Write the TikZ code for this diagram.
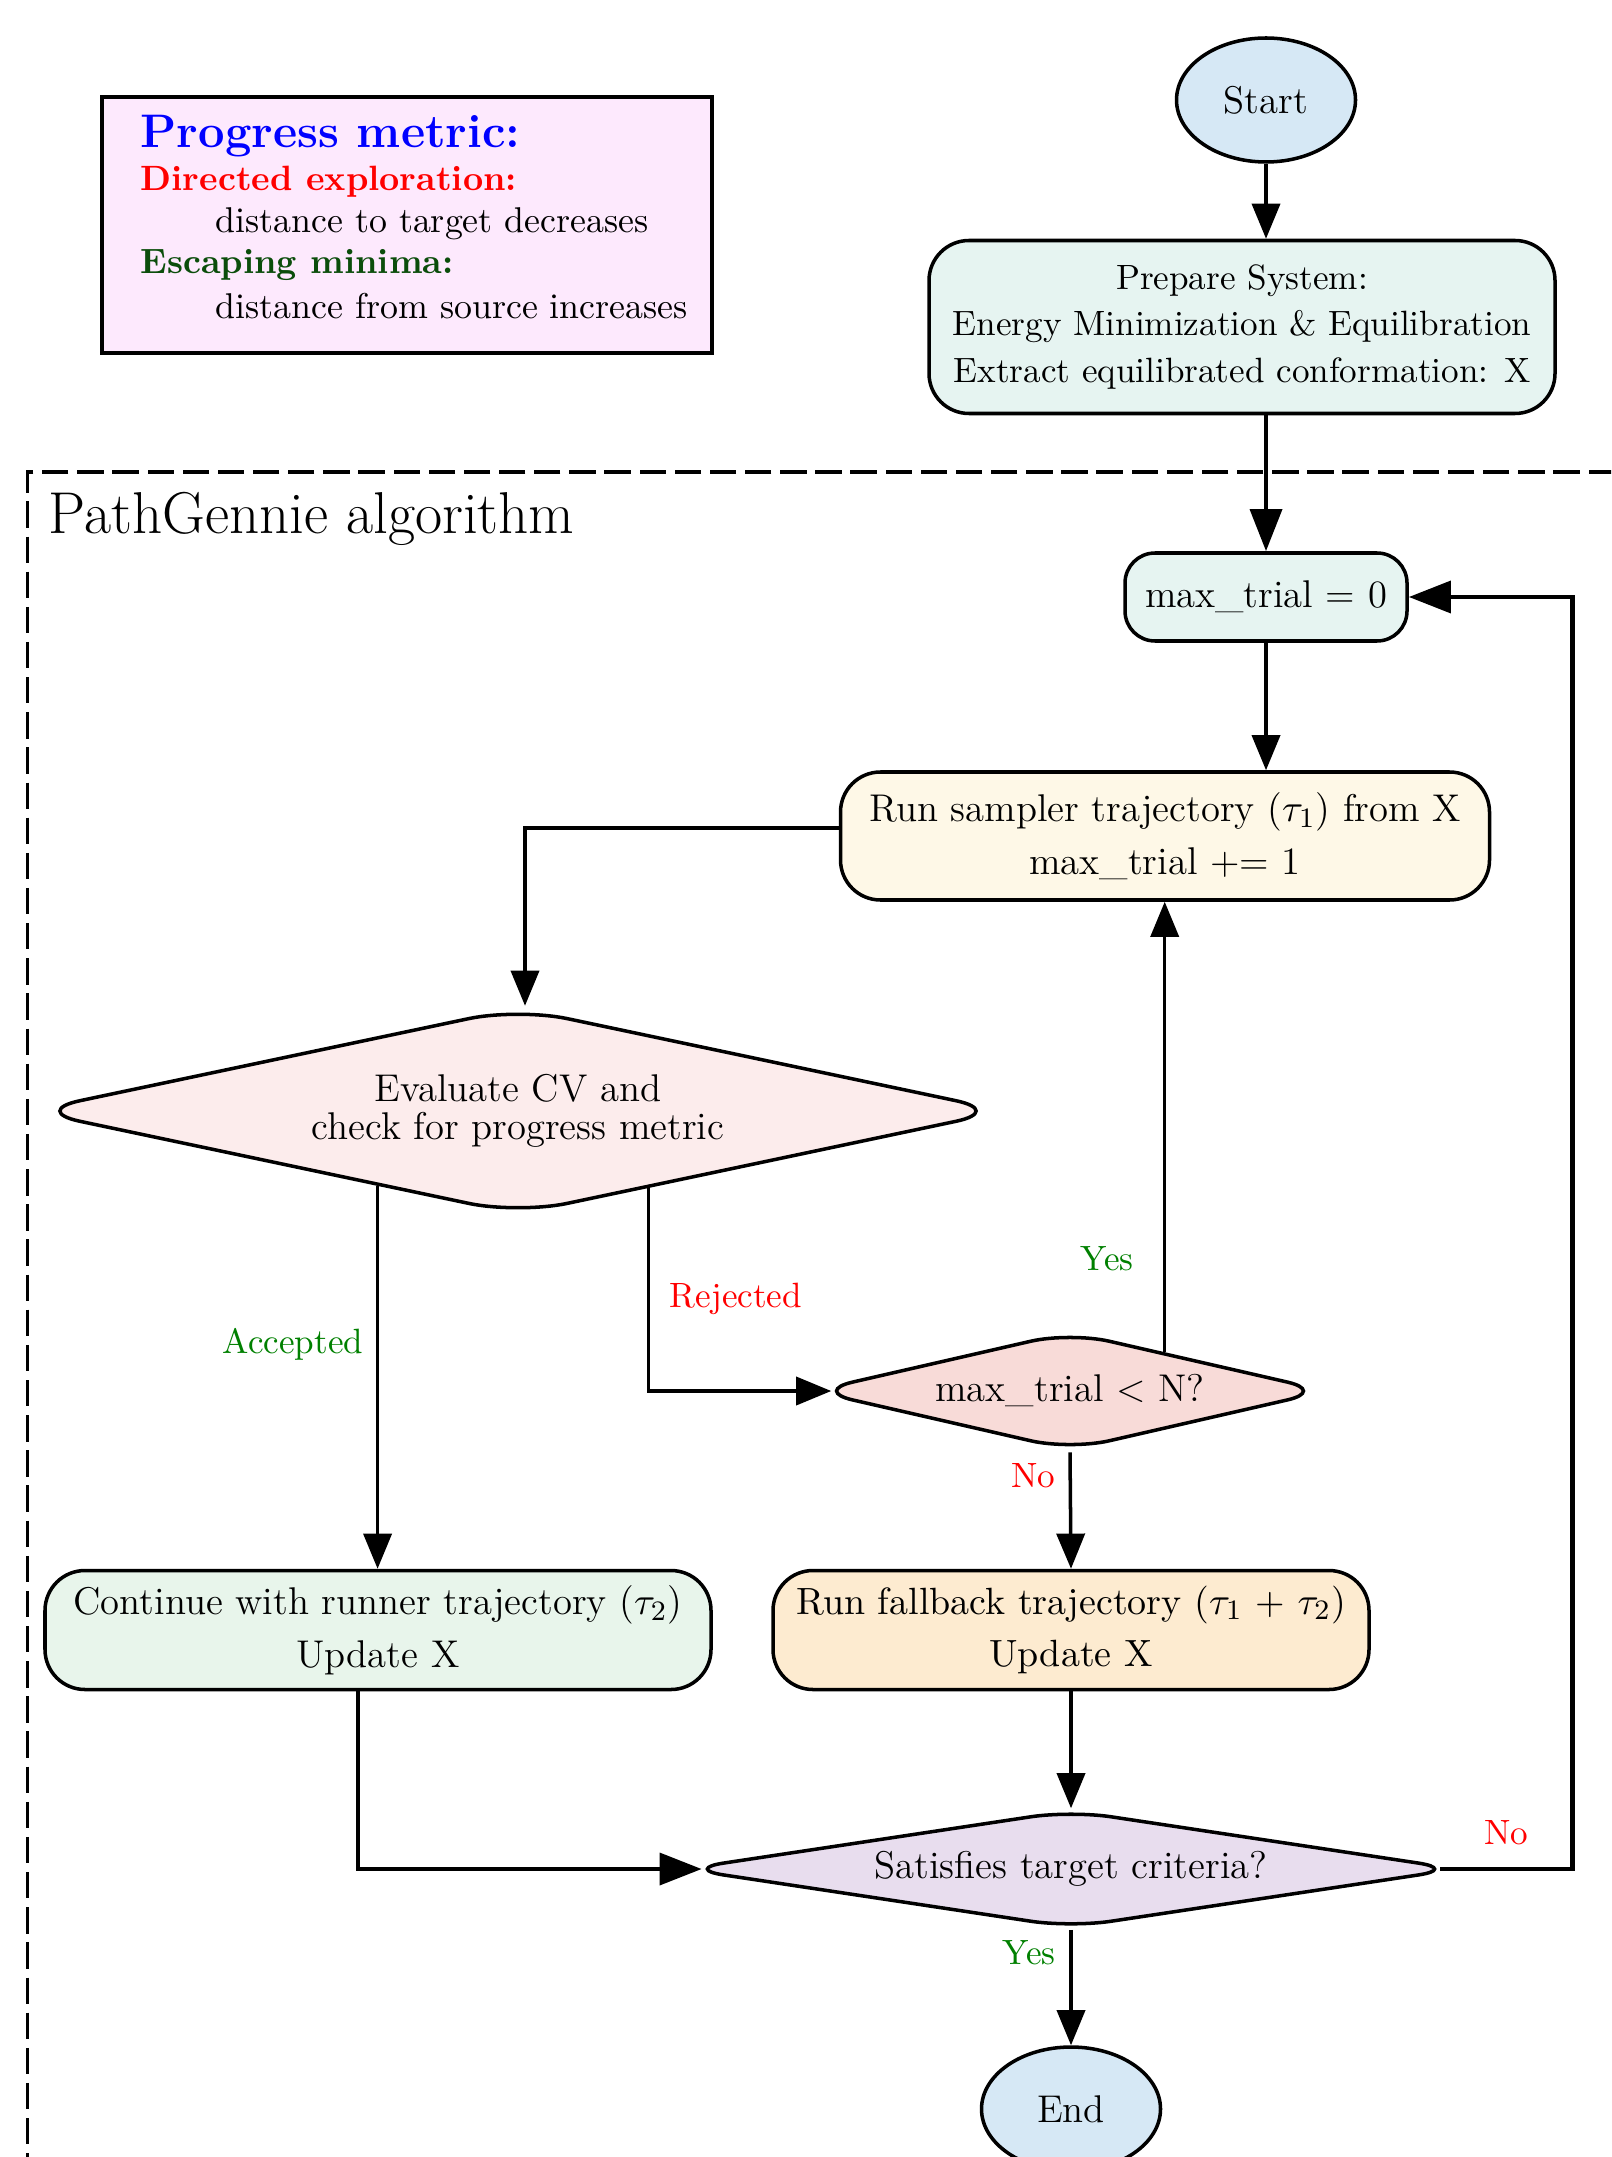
\documentclass[tikz,border=0pt]{standalone}
\usepackage{amsmath,amssymb,tikz,xcolor}
\usetikzlibrary{shapes.geometric,arrows.meta,calc}

\definecolor{termblue}{HTML}{D6E8F5}
\definecolor{prepteal}{HTML}{E6F4F1}
\definecolor{samplercream}{HTML}{FEF8E7}
\definecolor{evalpink}{HTML}{FCECEC}
\definecolor{checkpink}{HTML}{F8DBD8}
\definecolor{contgreen}{HTML}{E8F5EB}
\definecolor{fallorange}{HTML}{FDEBD0}
\definecolor{satlilac}{HTML}{E8DDEE}
\definecolor{legendpink}{HTML}{FDE9FD}
\definecolor{yesgreen}{HTML}{008000}
\definecolor{escgreen}{HTML}{0B4D0B}

\begin{document}
\begin{tikzpicture}[box/.style={draw=black,line width=1pt,rounded corners=0.4cm,align=center,inner sep=0pt,font=\fontsize{11}{14}\selectfont},
                    decision/.style={draw=black,line width=1pt,diamond,rounded corners=0.4cm,align=center,inner sep=0pt,font=\fontsize{11}{13}\selectfont},
                    term/.style={draw=black,line width=1pt,ellipse,minimum width=1.79cm,minimum height=1.24cm,fill=termblue,font=\fontsize{11}{13}\selectfont},
                    arr/.style={-{Triangle[length=10pt,width=8pt]},line width=1pt},
                    thickarr/.style={-{Triangle[length=12pt,width=9pt]},line width=1.4pt},
                    yeslbl/.style={text=yesgreen,font=\fontsize{10}{12}\selectfont},
                    nolbl/.style={text=red,font=\fontsize{10}{12}\selectfont}]
                \clip (0,0) rectangle (16.11,-21.57);

                % legend
                \node[draw=black,line width=1pt,fill=legendpink,anchor=north west,minimum width=6.10cm,minimum height=2.56cm,inner sep=0pt] (legend) at (1.00,-0.95) {};
                \node[anchor=west,inner sep=0pt,text=blue,font=\fontsize{13.4}{16}\selectfont\bfseries] (lgtitle) at (1.40,-1.36) {Progress metric:};
                \node[anchor=west,inner sep=0pt,text=red,font=\fontsize{10}{12}\selectfont\bfseries] (lgdir) at (1.40,-1.82) {Directed exploration:};
                \node[anchor=west,inner sep=0pt,font=\fontsize{10.2}{12}\selectfont] (lgdirtxt) at (2.15,-2.24) {distance to target decreases};
                \node[anchor=west,inner sep=0pt,text=escgreen,font=\fontsize{10}{12}\selectfont\bfseries] (lgesc) at (1.40,-2.65) {Escaping minima:};
                \node[anchor=west,inner sep=0pt,font=\fontsize{10.2}{12}\selectfont] (lgesctxt) at (2.15,-3.06) {distance from source increases};

                % algorithm frame
                \draw[line width=1pt,dash pattern=on 7.5pt off 2.5pt] (16.50,-4.72) -- (0.275,-4.72) -- (0.275,-22.00);
                \node[anchor=west,inner sep=0pt,font=\fontsize{16.8}{20}\selectfont] (frametitle) at (0.48,-5.19) {PathGennie algorithm};

                \node[term] (start) at (12.66,-1.00) {Start};
                \node[box,fill=prepteal,minimum width=6.26cm,minimum height=1.73cm,font=\fontsize{10}{13.3}\selectfont] (prep) at (12.42,-3.27) {Prepare System:\\Energy Minimization \& Equilibration\\Extract equilibrated conformation: X};
                \node[box,fill=prepteal,rounded corners=0.3cm,minimum width=2.82cm,minimum height=0.88cm] (maxzero) at (12.66,-5.97) {max\_trial = 0};
                \node[box,fill=samplercream,minimum width=6.49cm,minimum height=1.28cm,font=\fontsize{11}{15}\selectfont] (sampler) at (11.65,-8.36) {Run sampler trajectory ($\tau_1$) from X\\max\_trial += 1};
                \node[decision,fill=evalpink,shape aspect=4.71,minimum width=9.75cm,minimum height=2.07cm,rounded corners=0.5cm,font=\fontsize{11}{11}\selectfont] (eval) at (5.18,-11.11) {Evaluate CV and\\check for progress metric};
                \node[decision,fill=checkpink,shape aspect=4.32,minimum width=5.14cm,minimum height=1.19cm] (check) at (10.70,-13.91) {max\_trial \textless{} N?};
                \node[box,fill=contgreen,minimum width=6.66cm,minimum height=1.19cm,font=\fontsize{11}{15}\selectfont] (cont) at (3.78,-16.30) {Continue with runner trajectory ($\tau_2$)\\Update X};
                \node[box,fill=fallorange,minimum width=5.96cm,minimum height=1.19cm,font=\fontsize{10.8}{15}\selectfont] (fall) at (10.71,-16.30) {Run fallback trajectory ($\tau_1$ + $\tau_2$)\\Update X};
                \node[decision,fill=satlilac,shape aspect=6.57,minimum width=7.75cm,minimum height=1.18cm] (sat) at (10.71,-18.69) {Satisfies target criteria?};
                \node[term] (end) at (10.71,-21.09) {End};

                \draw[arr] (start.south) -- (start.south |- prep.north);
                \draw[thickarr] (prep.south -| maxzero.north) -- (maxzero.north);
                \draw[arr] (maxzero.south) -- (maxzero.south |- sampler.north);
                \draw[arr] ($(sampler.west)+(0,0.08)$) -| ($(eval.north)+(0.07,0)$);
                \draw[arr] ($(eval.south)!0.287!(eval.west)$) coordinate (acc) -- (acc |- cont.north);
                \draw[arr] ($(eval.south)!0.267!(eval.east)$) |- ($(check.west)+(0.2,0)$);
                \draw[arr] ($(check.north)!0.366!(check.east)$) coordinate (yes) -- (yes |- sampler.south);
                \draw[arr] (check.south) -- (fall.north);
                \draw[arr] (fall.south) -- (sat.north);
                \draw[thickarr] ($(cont.south)+(-0.20,0)$) |- ($(sat.west)+(0.2,0)$);
                \draw[thickarr] ($(sat.east)+(-0.2,0)$) -- ++(1.32,0) |- (maxzero.east);
                \draw[arr] (sat.south) -- (end.north);

                \node[yeslbl] (lblacc) at (2.93,-13.44) {Accepted};
                \node[nolbl] (lblrej) at (7.36,-12.99) {Rejected};
                \node[yeslbl] (lblyes) at (11.07,-12.59) {Yes};
                \node[nolbl] (lblno) at (10.33,-14.76) {No};
                \node[nolbl] (lblsatno) at (15.06,-18.33) {No};
                \node[yeslbl] (lblsatyes) at (10.29,-19.53) {Yes};
            \end{tikzpicture}
\end{document}
